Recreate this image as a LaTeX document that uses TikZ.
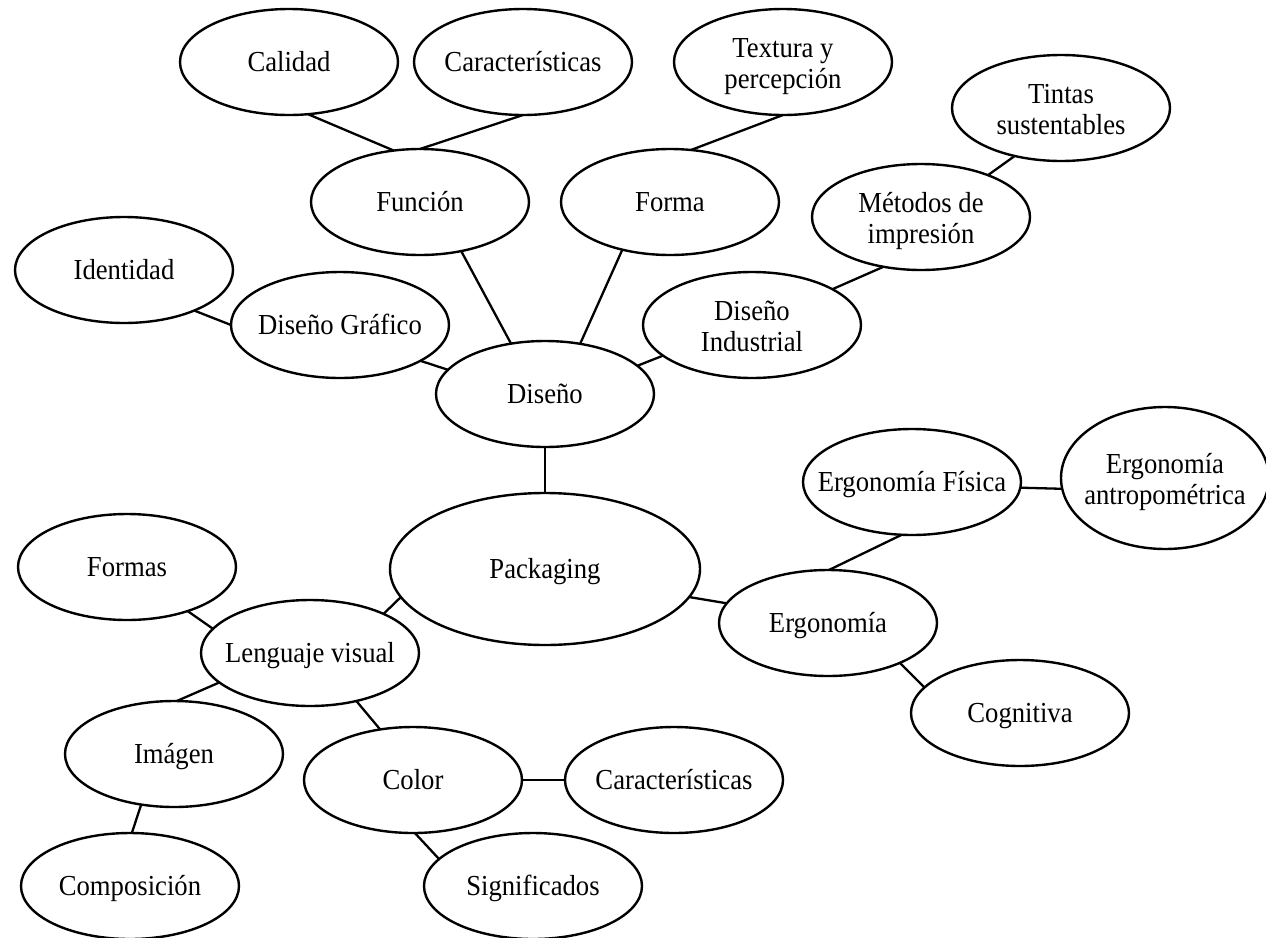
\documentclass[tikz,border=0pt]{standalone}
\usepackage{fontspec}
\setmainfont[FakeStretch=0.92]{Liberation Serif}
\usetikzlibrary{shapes.geometric}
% zero-size labels: the ellipse keeps its fixed size and the text sits
% at a set distance from the node centre
\newcommand{\lbl}[1]{\raisebox{-9pt}[0pt][0pt]{\makebox[0pt][c]{#1}}}
\newcommand{\lblii}[2]{\raisebox{5pt}[0pt][0pt]{\makebox[0pt][c]{%
  \begin{tabular}[t]{@{}c@{}}#1\\#2\end{tabular}}}}
\tikzset{
  bub/.style={ellipse, draw, line width=2.4pt, minimum width=218pt,
    minimum height=106pt, inner sep=0pt, outer sep=0pt,
    font=\fontsize{29}{31}\selectfont},
  link/.style={line width=2.3pt},
}
\begin{document}
\begin{tikzpicture}[x=1pt, y=-1pt]
\useasboundingbox (0,0) rectangle (1266,937);

% nodes
\node[bub] (cal)   at (289,62)  {\lbl{Calidad}};
\node[bub] (car1)  at (523,62)  {\lbl{Características}};
\node[bub] (tex)   at (783,62)  {\lblii{Textura y}{percepción}};
\node[bub] (tin)   at (1061,108){\lblii{Tintas}{sustentables}};
\node[bub] (fun)   at (420,202) {\lbl{Función}};
\node[bub] (frm)   at (670,202) {\lbl{Forma}};
\node[bub] (met)   at (921,217) {\lblii{Métodos de}{impresión}};
\node[bub] (ide)   at (124,270) {\lbl{Identidad}};
\node[bub] (dg)    at (340,325) {\lbl{Diseño Gráfico}};
\node[bub] (di)    at (752,325) {\lblii{Diseño}{Industrial}};
\node[bub] (dis)   at (545,394) {\lbl{Diseño}};
\node[bub] (ef)    at (912,482) {\lbl{Ergonomía Física}};
\node[bub, minimum width=208pt, minimum height=142pt] (ea) at (1165,478) {\lblii{Ergonomía}{antropométrica}};
\node[bub, minimum width=310pt, minimum height=152pt] (pack) at (545,569) {\lbl{Packaging}};
\node[bub] (fms)   at (127,567) {\lbl{Formas}};
\node[bub] (lv)    at (310,653) {\lbl{Lenguaje visual}};
\node[bub] (erg)   at (828,623) {\lbl{Ergonomía}};
\node[bub] (cog)   at (1020,713){\lbl{Cognitiva}};
\node[bub] (img)   at (174,754) {\lbl{Imágen}};
\node[bub] (col)   at (413,780) {\lbl{Color}};
\node[bub] (car2)  at (674,780) {\lbl{Características}};
\node[bub] (comp)  at (130,886) {\lbl{Composición}};
\node[bub] (sig)   at (533,886) {\lbl{Significados}};

% connectors
\draw[link] (cal.-70)    -- (fun.117);
\draw[link] (car1.-90)   -- (fun.90);
\draw[link] (tex.-90)    -- (frm.68);
\draw[link] (tin.-134)   -- (met.32);
\draw[link] (met.-127)   -- (di.24);
\draw[link] (di.-161)    -- (dis.17);
\draw[link] (fun.-50.5)  -- (dis.124);
\draw[link] (frm.-135.6) -- (dis.55.5);
\draw[link] (ide.-30)    -- (dg.180);
\draw[link] (dg.-24)     -- (dis.166);
\draw[link] (dis.south)  -- (pack.north);
\draw[link] (ef.-3.7)    -- (ea.-174);
\draw[link] (ef.-101)    -- (erg.89);
\draw[link] (pack.-11)   -- (erg.169.5);
\draw[link] (pack.-169)  -- (lv.28.4);
\draw[link] (fms.-36.4)  -- (lv.166.7);
\draw[link] (erg.-29.7)  -- (cog.165);
\draw[link] (lv.-162.5)  -- (img.87);
\draw[link] (lv.-46.8)   -- (col.123.7);
\draw[link] (col.east)   -- (car2.west);
\draw[link] (img.-123.4) -- (comp.88);
\draw[link] (col.-88)    -- (sig.164);
\end{tikzpicture}
\end{document}
